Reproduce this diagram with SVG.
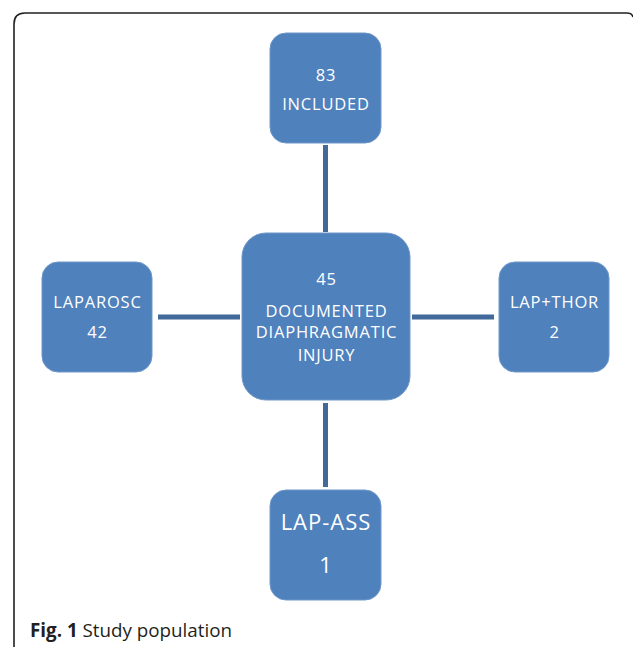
<svg xmlns="http://www.w3.org/2000/svg" width="633" height="647" viewBox="0 0 633 647">
<style>
.box{fill:#4F81BD;stroke:#6E97C9;stroke-width:1}
.t{font-family:"Open Sans","Liberation Sans",sans-serif;fill:#FFFFFF;text-anchor:middle;font-size:16.5px;letter-spacing:0.8px}
.big{font-size:22px;letter-spacing:1px}
.conn{stroke:#41699A;stroke-width:5;fill:none}
.cap{font-family:"Open Sans","Liberation Sans",sans-serif;fill:#231F20;font-size:18.8px}
</style>
<rect width="633" height="647" fill="#FFFFFF"/>
<path d="M14,647 L14,24 Q14,13 25,13 L627,13 Q632,13 633,17" fill="none" stroke="#231F20" stroke-width="1.6"/>
<g id="connectors">
<line class="conn" x1="325.5" y1="145" x2="325.5" y2="232"/>
<line class="conn" x1="158" y1="317" x2="240" y2="317"/>
<line class="conn" x1="412" y1="317" x2="494" y2="317"/>
<line class="conn" x1="325.5" y1="403" x2="325.5" y2="487"/>
</g>
<g id="included">
<rect class="box" x="270" y="33" width="111" height="110" rx="16"/>
<text class="t" x="326" y="81">83</text>
<text class="t" x="326" y="110">INCLUDED</text>
</g>
<g id="documented">
<rect class="box" x="242" y="233" width="168" height="167" rx="24"/>
<text class="t" x="326.5" y="285">45</text>
<text class="t" x="326.5" y="317">DOCUMENTED</text>
<text class="t" x="326.5" y="338">DIAPHRAGMATIC</text>
<text class="t" x="326.5" y="361">INJURY</text>
</g>
<g id="laparosc">
<rect class="box" x="42" y="262" width="110" height="110" rx="16"/>
<text class="t" x="97.5" y="308">LAPAROSC</text>
<text class="t" x="97.5" y="338">42</text>
</g>
<g id="lapthor">
<rect class="box" x="499" y="262" width="110" height="110" rx="16"/>
<text class="t" x="554.5" y="308">LAP+THOR</text>
<text class="t" x="554.5" y="338">2</text>
</g>
<g id="lapass">
<rect class="box" x="270" y="490" width="111" height="110" rx="16"/>
<text class="t big" x="326" y="530">LAP-ASS</text>
<text class="t big" x="326" y="573">1</text>
</g>
<text class="cap" x="30" y="637"><tspan font-weight="bold">Fig. 1</tspan> Study population</text>
</svg>
